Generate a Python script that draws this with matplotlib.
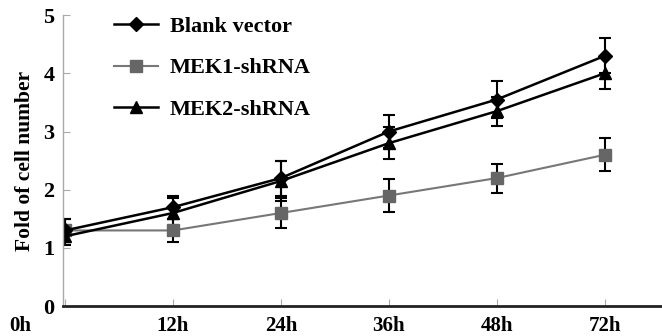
import numpy as np
import matplotlib
matplotlib.use("Agg")
import matplotlib.pyplot as plt
from matplotlib.lines import Line2D

# time points and measured fold change (mean +/- error)
time_labels = ['0h', '12h', '24h', '36h', '48h', '72h']
blank_mean = [1.3, 1.7, 2.2, 3.0, 3.55, 4.3]
blank_err = [0.2, 0.2, 0.3, 0.28, 0.32, 0.3]
mek1_mean = [1.3, 1.3, 1.6, 1.9, 2.2, 2.6]
mek1_err = [0.2, 0.2, 0.25, 0.28, 0.25, 0.28]
mek2_mean = [1.2, 1.6, 2.15, 2.8, 3.35, 4.0]
mek2_err = [0.15, 0.25, 0.35, 0.28, 0.25, 0.27]

plt.rcParams['font.family'] = ['Liberation Serif', 'DejaVu Serif']
plt.rcParams['font.weight'] = 'bold'

fig = plt.figure(figsize=(6.62, 3.36), dpi=100)
ax = fig.add_axes([0.095, 0.089, 0.905, 0.866])

x = np.arange(len(time_labels))
err_kw = dict(ecolor='black', elinewidth=1.5, capsize=4.5, capthick=1.5)

ax.errorbar(x, mek1_mean, yerr=mek1_err, color='#777777', lw=1.5, marker='s',
            ms=8, mfc='#666666', mec='#666666', **err_kw)
ax.errorbar(x, mek2_mean, yerr=mek2_err, color='black', lw=1.8, marker='^',
            ms=9, **err_kw)
ax.errorbar(x, blank_mean, yerr=blank_err, color='black', lw=1.8, marker='D',
            ms=7.5, **err_kw)

xpad = 7
ax.set_xlim(-0.02, 5.53)
ax.set_ylim(0, 5)
ax.set_xticks(x)
ax.set_xticklabels([''] + time_labels[1:], fontsize=15, fontweight='bold')
ax.set_yticks(range(6))
ax.set_yticklabels([str(i) for i in range(6)], fontsize=16, fontweight='bold')
ax.set_ylabel('Fold of cell number', fontsize=15.5, fontweight='bold', labelpad=6)

# first tick label sits left of the y axis
ax.annotate(time_labels[0], xy=(0, 0), xycoords=('data', 'axes fraction'),
            xytext=(-32.4, -xpad), textcoords='offset points', ha='center', va='top',
            fontsize=15, fontweight='bold')

for s in ['top', 'right']:
    ax.spines[s].set_visible(False)
ax.spines['left'].set_color('#aaaaaa')
ax.spines['left'].set_linewidth(1.0)
ax.spines['bottom'].set_color('#222222')
ax.spines['bottom'].set_linewidth(2.0)
ax.tick_params(axis='both', direction='in', color='#aaaaaa', length=5, width=0.8)
ax.tick_params(axis='x', pad=xpad)
ax.tick_params(axis='y', pad=6)

handles = [
    Line2D([], [], color='black', lw=1.8, marker='D', ms=7.5),
    Line2D([], [], color='#777777', lw=1.5, marker='s', ms=8, mfc='#666666', mec='#666666'),
    Line2D([], [], color='black', lw=1.8, marker='^', ms=9),
]
labels = ['Blank vector', 'MEK1-shRNA', 'MEK2-shRNA']
ax.legend(handles, labels, loc='upper left', bbox_to_anchor=(0.052, 1.065), frameon=False,
          prop={'weight': 'bold', 'size': 16}, handlelength=2.0,
          labelspacing=0.95, handletextpad=0.5)

fig.savefig('out.png', dpi=100)
